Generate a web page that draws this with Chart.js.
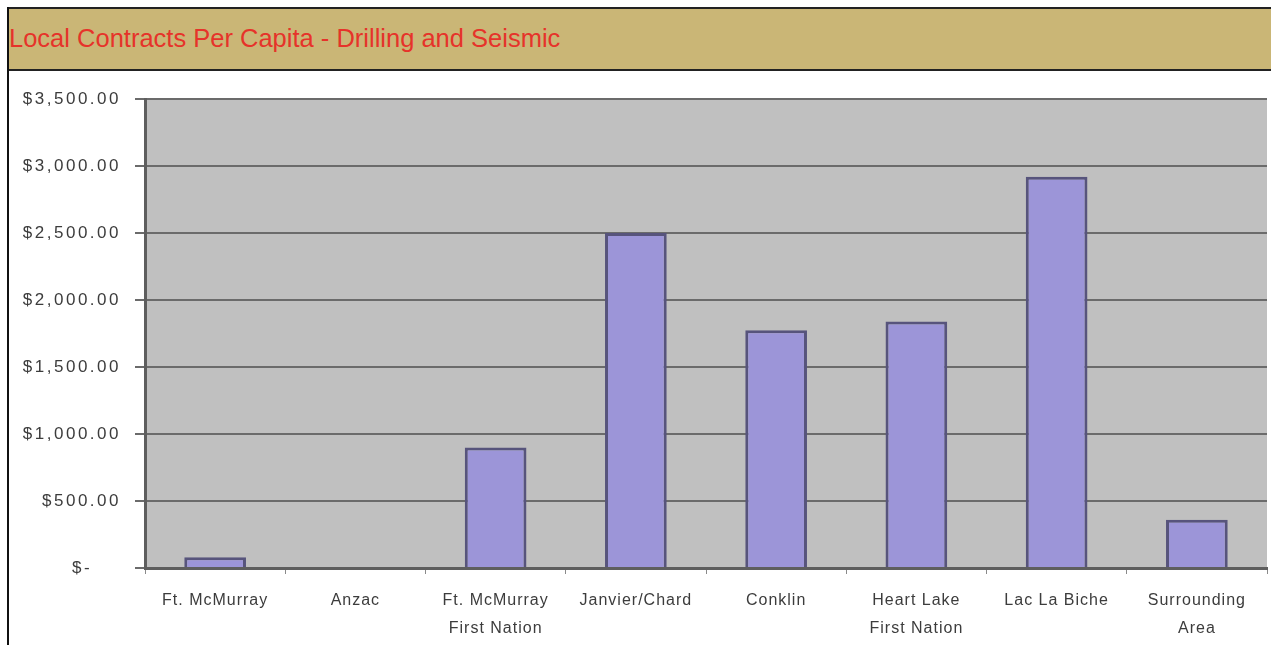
<!DOCTYPE html>
<html>
<head>
<meta charset="utf-8">
<script src="https://cdn.jsdelivr.net/npm/chart.js@4"></script>
<style>
  body { margin: 0; background: #fff; width: 1271px; height: 645px; overflow: hidden; position: relative; }
  #frame { position: absolute; left: 7px; top: 7px; width: 1264px; height: 638px; border-left: 2px solid #111; }
  #titleBar {
    position: absolute; left: 0; top: 0; width: 1264px; height: 60px;
    background: #cab676; border-top: 2px solid #222; border-bottom: 2px solid #222;
  }
  #titleBar span {
    position: absolute; left: 0; top: 15px;
    font-family: "Liberation Sans", Arial, sans-serif; font-size: 25.5px; color: #e6332a;
  }
  #chartBox { position: absolute; left: 2px; top: 64px; width: 1262px; height: 574px; }
</style>
</head>
<body>
<div id="frame">
  <div id="titleBar"><span>Local Contracts Per Capita - Drilling and Seismic</span></div>
  <div id="chartBox"><canvas id="barChart"></canvas></div>
</div>
<script>
const categories = [
  ['Ft. McMurray'],
  ['Anzac'],
  ['Ft. McMurray', 'First Nation'],
  ['Janvier/Chard'],
  ['Conklin'],
  ['Heart Lake', 'First Nation'],
  ['Lac La Biche'],
  ['Surrounding', 'Area']
];
const perCapita = [80, 0, 900, 2500, 1775, 1840, 2920, 360];
const yTicks = [0, 500, 1000, 1500, 2000, 2500, 3000, 3500];

const ctx = document.getElementById('barChart').getContext('2d');

// grey plot area like the old Excel chart
const plotBg = {
  id: 'plotBg',
  beforeDraw(chart) {
    const a = chart.chartArea;
    const c = chart.ctx;
    c.save();
    c.fillStyle = '#c0c0c0';
    c.fillRect(a.left, a.top, a.right - a.left, a.bottom - a.top);
    c.restore();
  }
};

// the source labels are drawn wide, so space the letters out a bit
const wideLabels = {
  id: 'wideLabels',
  afterLayout(chart) {
    const spacing = { x: '1px', y: '2.5px' };
    Object.keys(spacing).forEach(id => {
      const scale = chart.scales[id];
      if (scale._wide) return;
      const orig = scale.drawLabels;
      scale.drawLabels = function(area) {
        const c = this.ctx;
        c.save();
        c.letterSpacing = spacing[id];
        orig.call(this, area);
        c.restore();
      };
      scale._wide = true;
    });
  }
};

function money(v) {
  if (v === 0) return '$-    ';
  return '$' + v.toLocaleString('en-US', { minimumFractionDigits: 2, maximumFractionDigits: 2 });
}

new Chart(ctx, {
  type: 'bar',
  data: {
    labels: categories,
    datasets: [{
      data: perCapita,
      backgroundColor: '#9c95d8',
      borderColor: '#57547c',
      borderWidth: { left: 3, right: 3, top: 3, bottom: 0 },
      categoryPercentage: 1,
      barPercentage: 0.44
    }]
  },
  options: {
    responsive: true,
    maintainAspectRatio: false,
    animation: false,
    layout: { padding: { top: 28, right: 6, left: 0, bottom: 0 } },
    plugins: { legend: { display: false }, tooltip: { enabled: false } },
    scales: {
      y: {
        min: yTicks[0],
        max: yTicks[yTicks.length - 1],
        afterBuildTicks: s => { s.ticks = yTicks.map(v => ({ value: v })); },
        afterFit: s => { s.width = 134; },
        border: { color: '#5e5e5e', width: 3 },
        grid: { color: '#6b6b6b', lineWidth: 2, tickLength: 10 },
        ticks: {
          padding: 14,
          color: '#3c3c3c',
          font: { family: 'Liberation Sans, Arial, sans-serif', size: 17 },
          callback: v => money(v)
        }
      },
      x: {
        afterFit: s => { s.height = 77; },
        border: { color: '#5e5e5e', width: 3 },
        grid: { display: true, drawOnChartArea: false, color: '#8a8a8a', tickLength: 6 },
        ticks: {
          padding: 13,
          color: '#3c3c3c',
          maxRotation: 0,
          autoSkip: false,
          font: { family: 'Liberation Sans, Arial, sans-serif', size: 16, lineHeight: 1.75 }
        }
      }
    }
  },
  plugins: [plotBg, wideLabels]
});
</script>
</body>
</html>
